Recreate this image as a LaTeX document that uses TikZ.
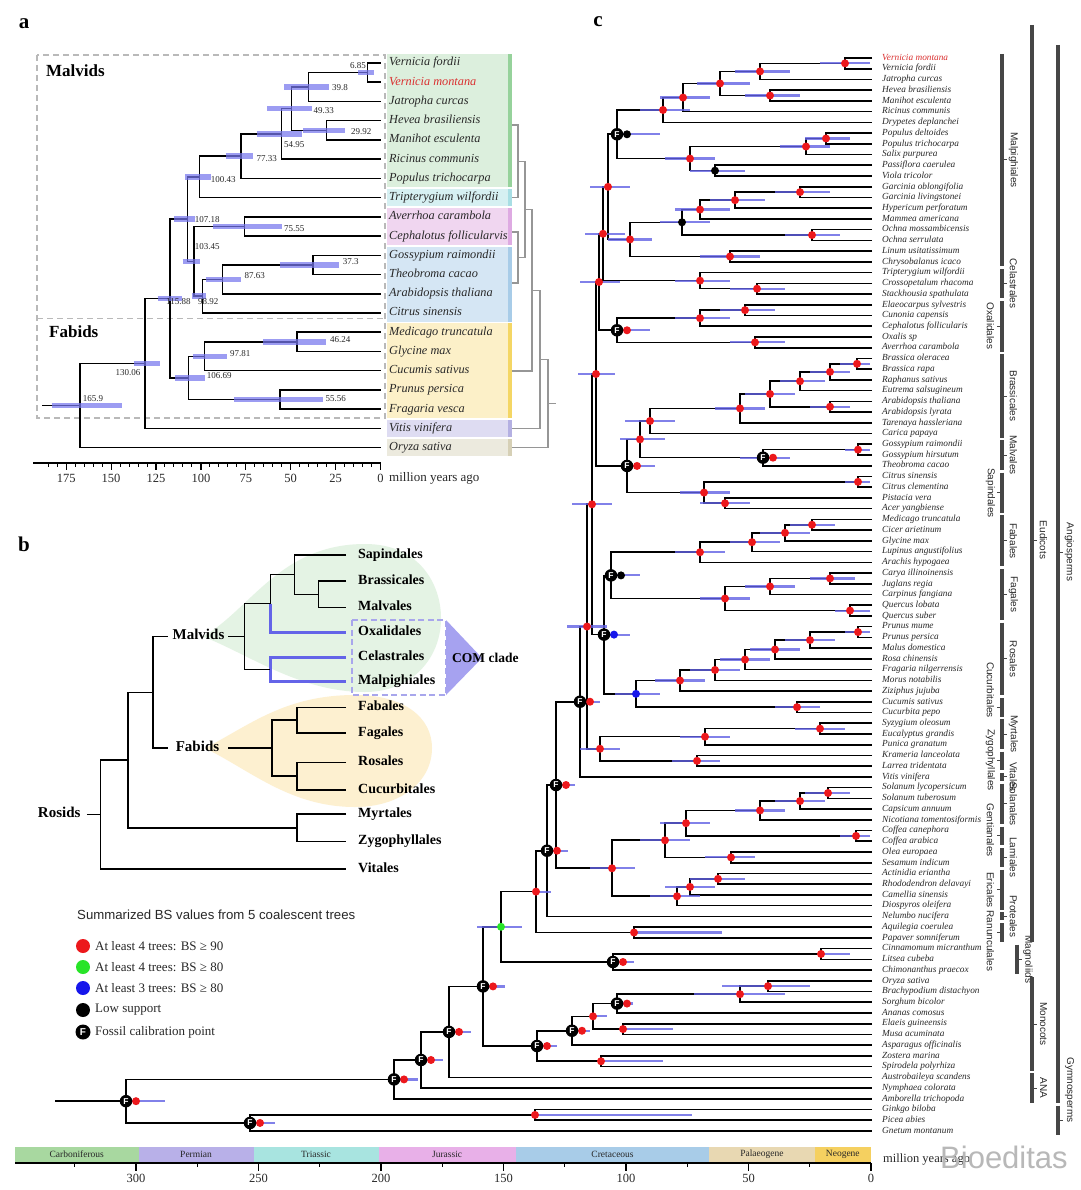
\documentclass[tikz,border=0pt]{standalone}
\usepackage{fontspec}
\setmainfont{Liberation Serif}
\newfontfamily\arialf{Liberation Sans}
\usetikzlibrary{calc}
\definecolor{hpdA}{RGB}{118,118,238}
\definecolor{hpdC}{RGB}{98,98,228}
\definecolor{redD}{RGB}{236,24,28}
\definecolor{greenD}{RGB}{40,228,40}
\definecolor{blueD}{RGB}{22,22,235}
\definecolor{txtg}{RGB}{40,40,40}
\definecolor{vmred}{RGB}{218,48,48}
\definecolor{boxgray}{RGB}{185,185,185}
\definecolor{treegray}{RGB}{150,150,150}
\definecolor{gGreen}{RGB}{220,239,221}\definecolor{gGreenS}{RGB}{150,210,155}
\definecolor{gCyan}{RGB}{214,240,242}\definecolor{gCyanS}{RGB}{168,222,228}
\definecolor{gPink}{RGB}{240,214,240}\definecolor{gPinkS}{RGB}{222,170,226}
\definecolor{gBlue}{RGB}{213,230,244}\definecolor{gBlueS}{RGB}{168,204,232}
\definecolor{gYel}{RGB}{252,240,200}\definecolor{gYelS}{RGB}{244,214,100}
\definecolor{gLav}{RGB}{222,220,242}\definecolor{gLavS}{RGB}{180,176,226}
\definecolor{gBei}{RGB}{236,234,222}\definecolor{gBeiS}{RGB}{214,208,182}
\definecolor{tdGreen}{RGB}{228,243,228}
\definecolor{tdYel}{RGB}{253,240,208}
\definecolor{comLav}{RGB}{168,166,236}
\definecolor{comTri}{RGB}{166,162,240}
\definecolor{bBlue}{RGB}{100,100,232}
\definecolor{ordbar}{RGB}{70,70,70}
\definecolor{pCarb}{RGB}{168,216,160}
\definecolor{pPerm}{RGB}{184,176,232}
\definecolor{pTria}{RGB}{168,228,224}
\definecolor{pJura}{RGB}{232,176,232}
\definecolor{pCret}{RGB}{168,204,232}
\definecolor{pPale}{RGB}{232,216,178}
\definecolor{pNeog}{RGB}{245,208,96}
\newcommand\TA[4]{\path let \p1=($(#3)!.5!(#4)$) in (#2pt,\y1) coordinate (#1);\draw[abr] (#3) -| (#1) |- (#4);}
\newcommand\AB[3]{\draw[abar] let \p1=(#1) in (#2pt,\y1) -- (#3pt,\y1);}
\newcommand\TC[4]{\path let \p1=($(#3)!.5!(#4)$) in (#2pt,\y1) coordinate (#1);\draw[cbr] (#3) -| (#1) |- (#4);}
\newcommand\TG[4]{\path let \p1=($(#3)!.5!(#4)$) in (#2pt,\y1) coordinate (#1);\draw[gtr] (#3) -| (#1) |- (#4);}
\newcommand\CB[3]{\draw[cbar] let \p1=(#1) in (#2pt,\y1) -- (#3pt,\y1);}
\newcommand\RD[1]{\fill[redD] (#1) circle (4pt);}
\newcommand\KD[1]{\fill[black] (#1) circle (4pt);}
\newcommand\GD[1]{\fill[greenD] (#1) circle (4pt);}
\newcommand\BD[1]{\fill[blueD] (#1) circle (4pt);}
\newcommand\FD[2]{\fill[#2] ($(#1)+(10,0)$) circle (4pt);\node[fossil] (F-#1) at (#1) {F};}
\begin{document}
\begin{tikzpicture}[x=1pt,y=-1pt,
  abr/.style={line width=1.5pt,black},
  abar/.style={line width=5.5pt,hpdA,opacity=.72},
  cbr/.style={line width=1.6pt,black},
  cbar/.style={line width=2.2pt,hpdC,opacity=.8},
  bbr/.style={line width=1.5pt,black},
  bblue/.style={line width=2.8pt,bBlue},
  gtr/.style={line width=1.1pt,treegray},
  atip/.style={anchor=west,inner sep=0,font=\fontsize{12.3}{12.3}\selectfont\itshape,text=txtg,text height=8.5pt,text depth=2.5pt},
  ctip/.style={anchor=west,inner sep=0,font=\fontsize{9.3}{9.3}\selectfont\itshape,text=txtg,text height=6.5pt,text depth=2pt},
  alab/.style={anchor=west,inner sep=0,font=\fontsize{9}{9}\selectfont,text=txtg},
  blab/.style={anchor=west,inner sep=0,font=\fontsize{14}{14}\selectfont\bfseries,text=black,text height=9.5pt,text depth=3pt},
  olab/.style={inner sep=0,font=\arialf\fontsize{10}{10}\selectfont,text=txtg},
  fossil/.style={circle,fill=black,text=white,inner sep=0,minimum size=12.5pt,font=\arialf\bfseries\fontsize{8.5}{8.5}\selectfont},
  obar/.style={line width=3.6pt,ordbar},
  panel/.style={font=\fontsize{21}{21}\selectfont\bfseries,inner sep=0},
  legt/.style={anchor=west,inner sep=0,font=\fontsize{13}{13}\selectfont,text=txtg},
  ]
\useasboundingbox (0,0) rectangle (1080,1190);
\fill[white] (0,0) rectangle (1080,1190);

%%%%%%%%%%%%%%%% PANEL A
\node[panel] (pa) at (24,24) {a};
\foreach \ya/\yb/\cc/\cs in {54.2/187.2/gGreen/gGreenS, 188.8/206.4/gCyan/gCyanS, 208/244.9/gPink/gPinkS, 246.5/321.8/gBlue/gBlueS, 323.4/417.9/gYel/gYelS, 419.6/437.2/gLav/gLavS, 438.8/456.4/gBei/gBeiS}{
  \fill[\cc] (387,\ya) rectangle (512,\yb);
  \fill[\cs] (507.5,\ya) rectangle (512,\yb);
}
\draw[boxgray,line width=1.5pt,dash pattern=on 6pt off 4pt] (37,55) rectangle (385,418);
\draw[boxgray,line width=1.5pt,dash pattern=on 6pt off 4pt] (37,318.5) -- (385,318.5);
\node[anchor=west,inner sep=0,font=\fontsize{17}{17}\selectfont\bfseries] (malvA) at (46,71) {Malvids};
\node[anchor=west,inner sep=0,font=\fontsize{17}{17}\selectfont\bfseries] (fabA) at (49,332) {Fabids};
\foreach \i in {1,...,21}{\coordinate (ta\i) at (380.5,{63+(\i-1)*19.23});}
\foreach \i/\nm in {1/Vernicia fordii,3/Jatropha curcas,4/Hevea brasiliensis,5/Manihot esculenta,6/Ricinus communis,7/Populus trichocarpa,8/Tripterygium wilfordii,9/Averrhoa carambola,10/Cephalotus follicularvis,11/Gossypium raimondii,12/Theobroma cacao,13/Arabidopsis thaliana,14/Citrus sinensis,15/Medicago truncatula,16/Glycine max,17/Cucumis sativus,18/Prunus persica,19/Fragaria vesca,20/Vitis vinifera,21/Oryza sativa}{
  \node[atip] (la\i) at (389,{63+(\i-1)*19.23}) {\nm};}
\node[atip,text=vmred] (la2) at (389,82.23) {Vernicia montana};
\TA{A1}{367.7}{ta1}{ta2}
\TA{A2}{308.5}{A1}{ta3}
\TA{A3}{326.3}{ta4}{ta5}
\TA{A4}{291.4}{A2}{A3}
\TA{A5}{281.3}{A4}{ta6}
\TA{A6}{241.1}{A5}{ta7}
\TA{A7}{199.6}{A6}{ta8}
\TA{A8}{244.3}{ta9}{ta10}
\TA{A9}{313.0}{ta11}{ta12}
\TA{A10}{222.6}{A9}{ta13}
\TA{A11}{202.3}{A10}{ta14}
\TA{A12}{194.2}{A8}{A11}
\TA{A13}{187.5}{A7}{A12}
\TA{A14}{297.0}{ta15}{ta16}
\TA{A15}{204.3}{A14}{ta17}
\TA{A16}{280.2}{ta18}{ta19}
\TA{A17}{188.4}{A15}{A16}
\TA{A18}{170.0}{A13}{A17}
\TA{A19}{145.0}{A18}{ta20}
\TA{A20}{80.0}{A19}{ta21}
\coordinate (A0) at (42,0 |- A20);
\draw[abr] (A0) -- (A20);
\AB{A1}{358}{373.6}\AB{A2}{284}{329}\AB{A3}{303}{345}\AB{A4}{267}{312}\AB{A5}{256.5}{302}
\AB{A6}{225.5}{253}\AB{A7}{185}{211}\AB{A8}{213}{282}\AB{A9}{279.6}{339}\AB{A10}{205.6}{241}
\AB{A11}{191.8}{205.6}\AB{A12}{182.5}{199.7}\AB{A13}{174}{194.6}\AB{A14}{263.4}{326.4}\AB{A15}{192.8}{226.6}
\AB{A16}{234}{322.7}\AB{A17}{174.6}{205}\AB{A18}{157.7}{181.8}\AB{A19}{133.6}{160}\AB{A20}{51.7}{122}
\node[alab,anchor=east] (a685) at (366,65.4) {6.85};
\node[alab] (a398) at (332,87.8) {39.8};
\node[alab] (a2992) at (351,131.9) {29.92};
\node[alab] (a4933) at (313.4,110.2) {49.33};
\node[alab] (a5495) at (284,144.6) {54.95};
\node[alab] (a7733) at (256.5,159) {77.33};
\node[alab] (a10043) at (210.7,179.8) {100.43};
\node[alab] (a10718) at (194.6,219.3) {107.18};
\node[alab] (a7555) at (284,229) {75.55};
\node[alab] (a10345) at (194.6,246.9) {103.45};
\node[alab] (a373) at (342.6,261.3) {37.3};
\node[alab] (a8763) at (244.5,275.5) {87.63};
\node[alab] (a11588) at (166,302) {115.88};
\node[alab] (a9892) at (198,302) {98.92};
\node[alab] (a4624) at (330,339.9) {46.24};
\node[alab] (a9781) at (230,353.6) {97.81};
\node[alab] (a10669) at (206.6,376) {106.69};
\node[alab] (a13006) at (115.4,372.6) {130.06};
\node[alab] (a5556) at (325.4,398.4) {55.56};
\node[alab] (a1659) at (82.6,398.4) {165.9};
\draw[line width=1.3pt] (33,463) -- (380.5,463);
\foreach \a in {5,10,...,185}{\draw[line width=1pt] ({380.5-1.796*\a},463) -- ++(0,3.5);}
\foreach \a in {0,25,...,175}{\draw[line width=1.2pt] ({380.5-1.796*\a},463) -- ++(0,7);
  \node[font=\fontsize{12.5}{12.5}\selectfont,text=txtg,inner sep=0] (ax\a) at ({380.5-1.796*\a},478) {\a};}
\node[anchor=west,inner sep=0,font=\fontsize{13}{13}\selectfont,text=txtg] (mya) at (389,478) {million years ago};
\coordinate (gA) at (512,125);\coordinate (gB) at (512,197.6);\coordinate (gC) at (512,232);
\coordinate (gD) at (512,283);\coordinate (gE) at (512,371);\coordinate (gF) at (512,428.4);\coordinate (gG) at (512,447.6);
\TG{g1}{518}{gA}{gB}
\TG{g2}{518}{gC}{gD}
\TG{g3}{525}{g1}{g2}
\TG{g4}{532}{g3}{gE}
\TG{g5}{540}{g4}{gF}
\TG{g6}{548}{g5}{gG}
\coordinate (g7) at (556,0 |- g6);
\draw[gtr] (g6) -- (g7);

%%%%%%%%%%%%%%%% PANEL B
\node[panel] (pb) at (24,544) {b};
\fill[tdGreen] (203,636.5) .. controls (250,610) and (280,544) .. (365,544) .. controls (420,544) and (441,585) .. (441,618) .. controls (441,660) and (410,692) .. (365,692) .. controls (300,692) and (250,655) .. (203,636.5) -- cycle;
\fill[tdYel] (205,748.2) .. controls (250,725) and (285,695) .. (355,695) .. controls (405,695) and (432,718) .. (432,748) .. controls (432,782) and (400,807) .. (355,807) .. controls (290,807) and (250,770) .. (205,748.2) -- cycle;
\draw[comLav,line width=1.6pt,dash pattern=on 6pt off 3.5pt] (352,620) rectangle (446,695);
\fill[comTri] (446,620) -- (482,658) -- (446,695) -- cycle;
\node[anchor=west,inner sep=0,font=\fontsize{13.5}{13.5}\selectfont\bfseries] (comc) at (452,658) {COM clade};
\coordinate (bS) at (346,555);\coordinate (bB) at (346,581);\coordinate (bM) at (346,607.5);
\coordinate (bO) at (346,632.6);\coordinate (bC) at (346,657.4);\coordinate (bMp) at (346,681.5);
\coordinate (bFa) at (346,707.3);\coordinate (bFg) at (346,733);\coordinate (bR) at (346,762.4);
\coordinate (bCu) at (346,790);\coordinate (bMy) at (346,814);\coordinate (bZ) at (346,841.6);\coordinate (bV) at (346,869.2);
\foreach \c/\nm in {bS/Sapindales,bB/Brassicales,bM/Malvales,bO/Oxalidales,bC/Celastrales,bMp/Malpighiales,bFa/Fabales,bFg/Fagales,bR/Rosales,bCu/Cucurbitales,bMy/Myrtales,bZ/Zygophyllales,bV/Vitales}{
  \node[blab] (l\c) at ($(\c)+(12,0)$) {\nm};}
\coordinate (bn1) at (318.5,594.25);\coordinate (bn2) at (294.4,574.6);\coordinate (bn3) at (270.3,603.6);
\coordinate (bn3b) at (270.3,574.6);
\coordinate (bn4) at (270.3,669.5);\coordinate (bMalv) at (244.5,636.5);
\coordinate (bn5) at (297.2,720.2);\coordinate (bn6) at (297.2,776.2);\coordinate (bFab) at (272,748.2);
\coordinate (bn7) at (153.2,692.4);\coordinate (bn8) at (297.2,827.8);\coordinate (bn9) at (128.1,760.1);
\coordinate (bRos) at (100.6,814.7);
\draw[bbr] (bB) -| (bn1) |- (bM);
\draw[bbr] (bS) -| (bn2) |- (bn1);
\draw[bbr] (bn2) -- (bn3b) -- (bn3);
\draw[bblue] (bn3) |- (bO);
\draw[bblue] (bC) -| (bn4) |- (bMp);
\draw[bbr] (bn3) -| (bMalv) |- (bn4);
\draw[bbr] (bFa) -| (bn5) |- (bFg);
\draw[bbr] (bR) -| (bn6) |- (bCu);
\draw[bbr] (bn5) -| (bFab) |- (bn6);
\node[blab,anchor=center,font=\fontsize{15}{15}\selectfont\bfseries] (lMalv) at (198.5,636.5) {Malvids};
\node[blab,anchor=center,font=\fontsize{15}{15}\selectfont\bfseries] (lFab) at (197.5,748.2) {Fabids};
\coordinate (bMalvL) at (167.7,636.5);\coordinate (bMalvR) at (228,636.5);
\coordinate (bFabL) at (167.7,748.2);\coordinate (bFabR) at (228,748.2);
\draw[bbr] (bMalvL) -| (bn7) |- (bFabL);
\draw[bbr] (bMalvR) -- (bMalv);
\draw[bbr] (bFabR) -- (bFab);
\draw[bbr] (bMy) -| (bn8) |- (bZ);
\coordinate (bn7s) at (153.2,692.4);
\draw[bbr] (bn7s) -| (bn9) |- (bn8);
\draw[bbr] (bn9) -| (bRos) |- (bV);
\node[blab,anchor=center,font=\fontsize{15}{15}\selectfont\bfseries] (lRos) at (59.2,814.7) {Rosids};
\coordinate (bRosL) at (86.8,814.7);
\draw[bbr] (bRosL) -- (bRos);

%%%%%%%%%%%%%%%% LEGEND
\node[anchor=west,inner sep=0,font=\arialf\fontsize{13.2}{13.2}\selectfont,text=txtg] (legT) at (77,915) {Summarized BS values from 5 coalescent trees};
\fill[redD] (83,946) circle (7pt);\node[legt] (lg1) at (95,946) {At least 4 trees: BS ≥ 90};
\fill[greenD] (83,967) circle (7pt);\node[legt] (lg2) at (95,967) {At least 4 trees: BS ≥ 80};
\fill[blueD] (83,988) circle (7pt);\node[legt] (lg3) at (95,988) {At least 3 trees: BS ≥ 80};
\fill[black] (83,1010) circle (7pt);\node[legt] (lg4) at (95,1010) {Low support};
\node[fossil,minimum size=15pt,font=\arialf\bfseries\fontsize{10}{10}\selectfont] (lgF) at (83,1032) {F};\node[legt] (lg5) at (95,1032) {Fossil calibration point};

%%%%%%%%%%%%%%%% PANEL C
\node[panel] (pc) at (598,22) {c};
\foreach \i in {1,...,101}{\coordinate (t\i) at (872,{58+(\i-1)*10.73});}
\node[ctip,text=vmred] (l1) at (882,58) {Vernicia montana};
\foreach \i/\nm in {2/Vernicia fordii,3/Jatropha curcas,4/Hevea brasiliensis,5/Manihot esculenta,6/Ricinus communis,7/Drypetes deplanchei,8/Populus deltoides,9/Populus trichocarpa,10/Salix purpurea,11/Passiflora caerulea,12/Viola tricolor,13/Garcinia oblongifolia,14/Garcinia livingstonei,15/Hypericum perforatum,16/Mammea americana,17/Ochna mossambicensis,18/Ochna serrulata,19/Linum usitatissimum,20/Chrysobalanus icaco,21/Tripterygium wilfordii,22/Crossopetalum rhacoma,23/Stackhousia spathulata,24/Elaeocarpus sylvestris,25/Cunonia capensis,26/Cephalotus follicularis,27/Oxalis sp,28/Averrhoa carambola,29/Brassica oleracea,30/Brassica rapa,31/Raphanus sativus,32/Eutrema salsugineum,33/Arabidopsis thaliana,34/Arabidopsis lyrata,35/Tarenaya hassleriana,36/Carica papaya,37/Gossypium raimondii,38/Gossypium hirsutum,39/Theobroma cacao,40/Citrus sinensis,41/Citrus clementina,42/Pistacia vera,43/Acer yangbiense,44/Medicago truncatula,45/Cicer arietinum,46/Glycine max,47/Lupinus angustifolius,48/Arachis hypogaea,49/Carya illinoinensis,50/Juglans regia,51/Carpinus fangiana,52/Quercus lobata,53/Quercus suber,54/Prunus mume,55/Prunus persica,56/Malus domestica,57/Rosa chinensis,58/Fragaria nilgerrensis,59/Morus notabilis,60/Ziziphus jujuba,61/Cucumis sativus,62/Cucurbita pepo,63/Syzygium oleosum,64/Eucalyptus grandis,65/Punica granatum,66/Krameria lanceolata,67/Larrea tridentata,68/Vitis vinifera,69/Solanum lycopersicum,70/Solanum tuberosum,71/Capsicum annuum,72/Nicotiana tomentosiformis,73/Coffea canephora,74/Coffea arabica,75/Olea europaea,76/Sesamum indicum,77/Actinidia eriantha,78/Rhododendron delavayi,79/Camellia sinensis,80/Diospyros oleifera,81/Nelumbo nucifera,82/Aquilegia coerulea,83/Papaver somniferum,84/Cinnamomum micranthum,85/Litsea cubeba,86/Chimonanthus praecox,87/Oryza sativa,88/Brachypodium distachyon,89/Sorghum bicolor,90/Ananas comosus,91/Elaeis guineensis,92/Musa acuminata,93/Asparagus officinalis,94/Zostera marina,95/Spirodela polyrhiza,96/Austrobaileya scandens,97/Nymphaea colorata,98/Amborella trichopoda,99/Ginkgo biloba,100/Picea abies,101/Gnetum montanum}{
  \node[ctip] (l\i) at (882,{58+(\i-1)*10.73}) {\nm};}
\TC{a1}{845}{t1}{t2}
\TC{a2}{760}{a1}{t3}
\TC{a3}{770}{t4}{t5}
\TC{a4}{720}{a2}{a3}
\TC{a5}{683}{a4}{t6}
\TC{a6}{663}{a5}{t7}
\TC{a7}{826}{t8}{t9}
\TC{a8}{806}{a7}{t10}
\TC{a9}{715}{t11}{t12}
\TC{a10}{690}{a8}{a9}
\TC{a11}{617}{a6}{a10}
\TC{a12}{800}{t13}{t14}
\TC{a13}{735}{a12}{t15}
\TC{a14}{700}{a13}{t16}
\TC{a15}{812}{t17}{t18}
\TC{a16}{682}{a14}{a15}
\TC{a17}{730}{t19}{t20}
\TC{a18}{630}{a16}{a17}
\TC{a19}{608}{a11}{a18}
\TC{c1}{757}{t22}{t23}
\TC{c2}{700}{t21}{c1}
\TC{com1}{603}{a19}{c2}
\TC{o1}{745}{t24}{t25}
\TC{o2}{700}{o1}{t26}
\TC{o3}{755}{t27}{t28}
\TC{o4}{617}{o2}{o3}
\TC{com}{599}{com1}{o4}
\TC{b1}{857}{t29}{t30}
\TC{b2}{830}{b1}{t31}
\TC{b3}{800}{b2}{t32}
\TC{b4}{830}{t33}{t34}
\TC{b5}{770}{b3}{b4}
\TC{b6}{740}{b5}{t35}
\TC{b7}{650}{b6}{t36}
\TC{v1}{858}{t37}{t38}
\TC{v2}{763}{v1}{t39}
\TC{s1}{858}{t40}{t41}
\TC{s2}{725}{t42}{t43}
\TC{s3}{704}{s1}{s2}
\TC{bm}{640}{b7}{v2}
\TC{bms}{627}{bm}{s3}
\TC{malv}{596}{com}{bms}
\TC{f1}{812}{t44}{t45}
\TC{f2}{785}{f1}{t46}
\TC{f3}{752}{f2}{t47}
\TC{f4}{700}{f3}{t48}
\TC{g1}{830}{t49}{t50}
\TC{g2}{770}{g1}{t51}
\TC{g3}{850}{t52}{t53}
\TC{g4}{725}{g2}{g3}
\TC{ff}{611}{f4}{g4}
\TC{r1}{858}{t54}{t55}
\TC{r2}{810}{r1}{t56}
\TC{r3}{775}{r2}{t57}
\TC{r4}{745}{r3}{t58}
\TC{r5}{715}{r4}{t59}
\TC{r6}{680}{r5}{t60}
\TC{cu}{797}{t61}{t62}
\TC{rc}{636}{r6}{cu}
\TC{fab}{604}{ff}{rc}
\TC{mf}{592}{malv}{fab}
\TC{my1}{820}{t63}{t64}
\TC{my2}{705}{my1}{t65}
\TC{z1}{697}{t66}{t67}
\TC{mz}{600}{my2}{z1}
\TC{ros}{587}{mf}{mz}
\TC{rosV}{580}{ros}{t68}
\TC{sl1}{828}{t69}{t70}
\TC{sl2}{800}{sl1}{t71}
\TC{sl3}{760}{sl2}{t72}
\TC{cf}{856}{t73}{t74}
\TC{lm}{731}{t75}{t76}
\TC{l1}{686}{sl3}{cf}
\TC{l2}{665}{l1}{lm}
\TC{er1}{718}{t77}{t78}
\TC{er2}{690}{er1}{t79}
\TC{er3}{677}{er2}{t80}
\TC{ast}{612}{l2}{er3}
\TC{ce}{556}{rosV}{ast}
\TC{ne}{547}{ce}{t81}
\TC{rn}{634}{t82}{t83}
\TC{eud}{536}{ne}{rn}
\TC{mg1}{821}{t84}{t85}
\TC{mg}{613}{mg1}{t86}
\TC{gn}{501}{eud}{mg}
\TC{gr1}{768}{t87}{t88}
\TC{gr2}{740}{gr1}{t89}
\TC{po}{617}{gr2}{t90}
\TC{ar}{623}{t91}{t92}
\TC{mc1}{593}{po}{ar}
\TC{mc2}{572}{mc1}{t93}
\TC{al}{601}{t94}{t95}
\TC{mono}{537}{mc2}{al}
\TC{mes}{483}{gn}{mono}
\TC{n449}{449}{mes}{t96}
\TC{n421}{421}{n449}{t97}
\TC{angio}{394}{n421}{t98}
\TC{gy1}{535}{t99}{t100}
\TC{gymno}{250}{gy1}{t101}
\TC{root}{126}{angio}{gymno}
\coordinate (root0) at (55,0 |- root);
\draw[cbr] (root0) -- (root);
\CB{a1}{820}{870}\CB{a2}{735}{790}\CB{a3}{745}{800}\CB{a4}{697}{750}\CB{a5}{660}{710}\CB{a6}{640}{690}
\CB{a7}{805}{850}\CB{a8}{780}{830}\CB{a9}{690}{745}\CB{a10}{665}{715}\CB{a11}{617}{660}
\CB{a12}{775}{830}\CB{a13}{710}{765}\CB{a14}{675}{730}\CB{a15}{785}{840}\CB{a16}{660}{710}\CB{a17}{700}{760}\CB{a18}{608}{652}\CB{a19}{590}{630}
\CB{c1}{730}{785}\CB{c2}{675}{730}\CB{com1}{585}{625}\CB{o1}{720}{775}\CB{o2}{675}{730}\CB{o3}{730}{785}\CB{o4}{617}{650}\CB{com}{580}{620}
\CB{b1}{840}{870}\CB{b2}{810}{850}\CB{b3}{780}{825}\CB{b4}{810}{850}\CB{b5}{745}{795}\CB{b6}{715}{765}\CB{b7}{625}{675}
\CB{v1}{845}{870}\CB{v2}{740}{790}\CB{s1}{845}{870}\CB{s2}{700}{750}\CB{s3}{680}{730}\CB{bm}{620}{665}\CB{bms}{627}{655}\CB{malv}{578}{615}
\CB{f1}{790}{835}\CB{f2}{760}{810}\CB{f3}{730}{780}\CB{f4}{675}{725}\CB{g1}{810}{855}\CB{g2}{745}{795}\CB{g3}{835}{870}\CB{g4}{700}{750}\CB{ff}{611}{640}
\CB{r1}{845}{870}\CB{r2}{785}{835}\CB{r3}{750}{800}\CB{r4}{720}{770}\CB{r5}{690}{740}\CB{r6}{655}{705}\CB{cu}{775}{820}\CB{rc}{615}{660}\CB{fab}{604}{630}
\CB{mf}{572}{612}\CB{my1}{795}{845}\CB{my2}{680}{730}\CB{z1}{672}{720}\CB{mz}{580}{620}\CB{ros}{567}{607}\CB{rosV}{580}{600}
\CB{sl1}{805}{850}\CB{sl2}{775}{825}\CB{sl3}{735}{785}\CB{cf}{840}{870}\CB{lm}{705}{755}\CB{l1}{660}{710}\CB{l2}{640}{690}
\CB{er1}{690}{745}\CB{er2}{665}{715}\CB{er3}{650}{700}\CB{ast}{590}{635}\CB{ce}{556}{575}\CB{ne}{547}{568}
\CB{rn}{634}{722}\CB{eud}{536}{551}\CB{mg1}{821}{850}\CB{mg}{613}{634}\CB{gn}{477}{522}
\CB{gr1}{722}{810}\CB{gr2}{694}{785}\CB{po}{617}{633}\CB{ar}{623}{673}\CB{mc1}{593}{607}\CB{mc2}{572}{590}\CB{al}{601}{663}
\CB{mono}{537}{557}\CB{mes}{483}{505}\CB{n449}{449}{471}\CB{n421}{421}{443}\CB{angio}{394}{418}
\CB{gy1}{535}{692}\CB{gymno}{250}{275}\CB{root}{126}{165}
\foreach \n in {a1,a2,a3,a4,a5,a6,a7,a8,a10,a12,a13,a14,a15,a17,a18,a19,c1,c2,com1,o1,o2,o3,com,b1,b2,b3,b4,b5,b6,b7,v1,s1,s2,s3,bm,malv,f1,f2,f3,f4,g1,g2,g3,g4,r1,r2,r3,r4,r5,r6,cu,mf,my1,my2,z1,mz,ros,sl1,sl2,sl3,cf,lm,l1,l2,er1,er2,er3,ast,rn,eud,mg1,gr1,gr2,ar,mc1,al,gy1}{\RD{\n}}
\KD{a9}\KD{a16}\BD{rc}
\GD{gn}
\FD{a11}{black}\FD{o4}{redD}\FD{bms}{redD}\FD{ff}{black}\FD{fab}{blueD}\FD{rosV}{redD}
\FD{v2}{redD}\FD{ce}{redD}\FD{ne}{redD}\FD{mg}{redD}\FD{po}{redD}\FD{mc2}{redD}\FD{mono}{redD}
\FD{mes}{redD}\FD{n449}{redD}\FD{n421}{redD}\FD{angio}{redD}\FD{gymno}{redD}\FD{root}{redD}
\foreach \ya/\yb/\yl/\nm/\sd in {54/266/160/Malpighiales/1,269/298/283.5/Celastrales/1,301/351.7/326/Oxalidales/-1,354.4/437.6/396/Brassicales/1,440.3/469.7/455/Malvales/1,472.5/512.7/493/Sapindales/-1,515.4/566.3/541/Fabales/1,569/620/594.5/Fagales/1,622.7/695.1/659/Rosales/1,697.8/716.5/690/Cucurbitales/-1,719.3/748.7/734/Myrtales/1,751.5/770.2/760/Zygophyllales/-1,772.9/780.9/777/Vitales/1,783.6/823.8/804/Solanales/1,826.6/845.3/830/Gentianales/-1,848/866.8/857.4/Lamiales/1,869.5/909.7/890/Ericales/-1,912.4/920.4/916.4/Proteales/1,923.1/941.9/941/Ranunculales/-1}{
  \draw[obar] (1002,\ya) -- (1002,\yb);
  \draw[line width=1pt,ordbar] (1002,{(\ya+\yb)/2}) -- ++({\sd*5},0);
  \node[olab,rotate=-90] (ord-\nm) at ({1002+\sd*11.5},\yl) {\nm};}
\draw[obar] (1017,944.6) -- (1017,974);\draw[line width=1pt,ordbar] (1017,959.3) -- ++(5,0);
\node[olab,rotate=-90] (ord-Mag) at (1028,959.3) {Magnoliids};
\foreach \ya/\yb/\yl/\nm/\xx in {25/942/540/Eudicots/1032,977/1070.6/1024/Monocots/1032,1073.4/1102.8/1088/ANA/1032,45/1102.8/552/Angiosperms/1058,1105.5/1135/1120/Gymnosperms/1058}{
  \draw[obar] (\xx,\ya) -- (\xx,\yb);
  \draw[line width=1pt,ordbar] (\xx,\yl) -- ++(5,0);}
\node[olab,rotate=-90] (ord-Eud) at (1043.5,540) {Eudicots};
\node[olab,rotate=-90] (ord-Mon) at (1043.5,1024) {Monocots};
\node[olab,rotate=-90] (ord-ANA) at (1043.5,1088) {ANA};
\node[olab,rotate=-90] (ord-Ang) at (1069.5,552) {Angiosperms};
\node[olab,rotate=-90] (ord-Gym) at (1069.5,1090) {Gymnosperms};
\foreach \xa/\xb/\cc/\nm in {15/138.5/pCarb/Carboniferous,138.5/253.6/pPerm/Permian,253.6/378.5/pTria/Triassic,378.5/515.8/pJura/Jurassic,515.8/709.3/pCret/Cretaceous,709.3/814.6/pPale/Palaeogene,814.6/871/pNeog/Neogene}{
  \fill[\cc] (\xa,1147) rectangle (\xb,1162);
  \node[inner sep=0,font=\fontsize{9.5}{9.5}\selectfont,text=txtg] (per-\nm) at ({(\xa+\xb)/2},1154.5) {\nm};}
\draw[line width=1.3pt] (15,1163) -- (871,1163);
\foreach \a in {25,75,...,325}{\draw[line width=1pt] ({871-2.45*\a},1163) -- ++(0,4);}
\foreach \a in {0,50,...,300}{\draw[line width=1.2pt] ({871-2.45*\a},1163) -- ++(0,7.5);
  \node[inner sep=0,font=\fontsize{12.5}{12.5}\selectfont,text=txtg] (tx\a) at ({871-2.45*\a},1178) {\a};}
\node[anchor=west,inner sep=0,font=\fontsize{12.5}{12.5}\selectfont,text=txtg] (myc) at (883,1159) {million years ago};
\node[anchor=west,inner sep=0,font=\arialf\fontsize{31}{31}\selectfont,text=black!28] (wm) at (940,1157) {Bioeditas};
\end{tikzpicture}
\end{document}
